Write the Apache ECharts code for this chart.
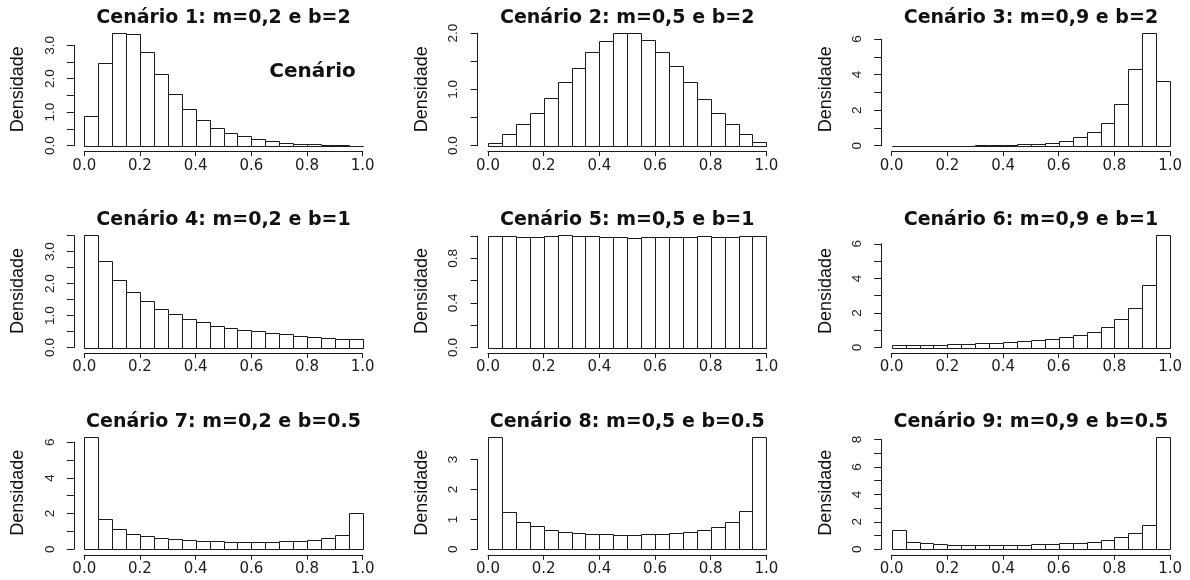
<!DOCTYPE html>
<html>
<head>
<meta charset="utf-8">
<script src="https://cdn.jsdelivr.net/npm/echarts/dist/echarts.min.js"></script>
<style>
  html, body { margin: 0; padding: 0; background: #ffffff; }
  #chart { width: 1190px; height: 580px; }
</style>
</head>
<body>
<div id="chart"></div>
<script>
// Histogram bins: 20 classes of width 0.05 on [0, 1]
const binEdges = [0, 0.05, 0.1, 0.15, 0.2, 0.25, 0.3, 0.35, 0.4, 0.45, 0.5,
                  0.55, 0.6, 0.65, 0.7, 0.75, 0.8, 0.85, 0.9, 0.95, 1.0];

const panelTitles = [
  'Cenário 1: m=0,2 e b=2', 'Cenário 2: m=0,5 e b=2', 'Cenário 3: m=0,9 e b=2',
  'Cenário 4: m=0,2 e b=1', 'Cenário 5: m=0,5 e b=1', 'Cenário 6: m=0,9 e b=1',
  'Cenário 7: m=0,2 e b=0.5', 'Cenário 8: m=0,5 e b=0.5', 'Cenário 9: m=0,9 e b=0.5'
];

// Density of each bin, one array per scenario
const dens1 = [0.88, 2.46, 3.36, 3.34, 2.81, 2.14, 1.53, 1.10, 0.77, 0.53, 0.38, 0.28, 0.20, 0.14, 0.09, 0.06, 0.06, 0.03, 0.02, 0.005];
const dens2 = [0.05, 0.20, 0.38, 0.59, 0.84, 1.13, 1.39, 1.67, 1.87, 2.00, 2.00, 1.88, 1.67, 1.41, 1.13, 0.83, 0.59, 0.38, 0.20, 0.06];
const dens3 = [0.001, 0.001, 0.002, 0.003, 0.005, 0.01, 0.03, 0.03, 0.04, 0.08, 0.10, 0.18, 0.25, 0.47, 0.77, 1.30, 2.37, 4.30, 6.33, 3.65];
const dens4 = [3.52, 2.70, 2.12, 1.73, 1.45, 1.22, 1.04, 0.88, 0.79, 0.68, 0.61, 0.54, 0.51, 0.46, 0.42, 0.36, 0.33, 0.30, 0.27, 0.27];
const dens5 = [1.000, 1.000, 0.994, 0.994, 1.000, 1.009, 1.000, 1.000, 0.988, 0.994, 0.982, 0.988, 0.994, 0.988, 0.994, 1.003, 0.994, 0.994, 1.000, 1.000];
const dens6 = [0.15, 0.15, 0.15, 0.15, 0.21, 0.21, 0.25, 0.25, 0.33, 0.38, 0.44, 0.50, 0.59, 0.71, 0.90, 1.19, 1.63, 2.30, 3.60, 6.51];
const dens7 = [6.30, 1.71, 1.13, 0.88, 0.73, 0.62, 0.56, 0.51, 0.45, 0.45, 0.39, 0.39, 0.39, 0.39, 0.45, 0.45, 0.51, 0.62, 0.79, 2.04];
const dens8 = [3.76, 1.25, 0.92, 0.77, 0.64, 0.57, 0.55, 0.52, 0.52, 0.48, 0.48, 0.52, 0.52, 0.55, 0.57, 0.64, 0.74, 0.92, 1.29, 3.76];
const dens9 = [1.39, 0.51, 0.44, 0.37, 0.32, 0.32, 0.32, 0.32, 0.32, 0.32, 0.39, 0.39, 0.44, 0.44, 0.51, 0.66, 0.88, 1.17, 1.80, 8.20];

// Y tick spacing per panel, and how many ticks between printed labels
const yTickStep   = [0.5, 0.5, 1, 0.5, 0.2, 1, 1, 1, 1];
const yLabelEvery = [2, 2, 2, 2, 2, 2, 2, 1, 2];

// X axis ticks
const xTickStep = 0.2;

const yAxisTitle = 'Densidade';

// Free text written inside the first panel (data coordinates)
const noteText = 'Cenário';
const notePoint = [0.82, 2.2];

const panels = [dens1, dens2, dens3, dens4, dens5, dens6, dens7, dens8, dens9];

// ---- layout of the 3 x 3 panel grid ----
const COL_X0 = 84.3, COL_STEP = 403.7, PLOT_W = 278.4;
const ROW_Y0 = 145.7, ROW_STEP = 201.8, BAR_SPAN = 112.5;

const INK = '#1c1c1c';
const grids = [], xAxes = [], yAxes = [], series = [], titles = [], graphics = [];

function histRect(params, api) {
  const p0 = api.coord([api.value(0), api.value(2)]);
  const p1 = api.coord([api.value(1), 0]);
  const x0 = Math.round(p0[0]) + 0.5, x1 = Math.round(p1[0]) + 0.5;
  const yt = Math.round(p0[1]) + 0.5, yb = Math.round(p1[1]) + 0.5;
  return {
    type: 'rect',
    shape: { x: x0, y: yt, width: x1 - x0, height: yb - yt },
    style: { fill: '#ffffff', stroke: INK, lineWidth: 1 }
  };
}

function noteLabel(params, api) {
  const p = api.coord([api.value(0), api.value(1)]);
  return {
    type: 'text', x: p[0], y: p[1],
    style: { text: noteText, fontFamily: 'DejaVu Sans', fontWeight: 'bold', fontSize: 20,
             fill: '#111111', align: 'center', verticalAlign: 'middle' }
  };
}

panels.forEach((dens, i) => {
  const r = Math.floor(i / 3), c = i % 3;
  const left = COL_X0 + COL_STEP * c;
  const y0 = ROW_Y0 + ROW_STEP * r;
  const maxD = Math.max(...dens);
  const step = yTickStep[i];
  const every = yLabelEvery[i];
  const lastTick = Math.round(Math.floor(maxD * 1.04 / step + 1e-6) * step * 1000) / 1000;
  const unit = BAR_SPAN / maxD;
  const h = lastTick * unit;

  grids.push({ left: left, top: y0 - h, width: PLOT_W, height: h,
               containLabel: false, outerBoundsMode: 'none' });

  xAxes.push({
    gridIndex: i, type: 'value', min: 0, max: 1, interval: xTickStep,
    offset: 5.5,
    axisLine: { show: true, onZero: false, lineStyle: { color: INK, width: 1 } },
    axisTick: { show: true, inside: false, length: 5, lineStyle: { color: INK, width: 1 } },
    splitLine: { show: false },
    axisLabel: {
      show: true, margin: 7, showMinLabel: true, showMaxLabel: true,
      fontFamily: 'DejaVu Sans', fontSize: 15, color: INK,
      formatter: v => v.toFixed(1)
    }
  });

  yAxes.push({
    gridIndex: i, type: 'value', min: 0, max: lastTick, interval: step,
    offset: 10.5,
    axisLine: { show: true, onZero: false, lineStyle: { color: INK, width: 1 } },
    axisTick: { show: true, inside: false, length: 7, lineStyle: { color: INK, width: 1 } },
    splitLine: { show: false },
    axisLabel: {
      show: true, rotate: 90, margin: 17, showMinLabel: true, showMaxLabel: true,
      fontFamily: 'Liberation Sans', fontSize: 13.5, color: INK,
      formatter: v => {
        const k = Math.round(v / step);
        return k % every === 0 ? v.toFixed(step < 1 ? 1 : 0) : '';
      }
    }
  });

  series.push({
    type: 'custom', xAxisIndex: i, yAxisIndex: i, clip: false, silent: true,
    renderItem: histRect,
    encode: { x: [0, 1], y: 2 },
    data: dens.map((d, k) => [binEdges[k], binEdges[k + 1], d])
  });

  titles.push({
    text: panelTitles[i], left: left + PLOT_W / 2, top: y0 - 137, padding: 0,
    textAlign: 'center',
    textStyle: { fontFamily: 'DejaVu Sans', fontWeight: 'bold', fontSize: 19, color: '#111111' }
  });

  // axis title centred on the whole plotting region of the panel
  graphics.push({
    type: 'text', x: left - 10.5 - 55.5, y: y0 - 56.5, rotation: Math.PI / 2, silent: true,
    style: { text: yAxisTitle, fontFamily: 'Liberation Sans', fontSize: 18, fill: '#111111',
             textAlign: 'center', textVerticalAlign: 'middle' }
  });
});

// free annotation in the first panel
series.push({
  type: 'custom', xAxisIndex: 0, yAxisIndex: 0, clip: false, silent: true,
  renderItem: noteLabel,
  encode: { x: 0, y: 1 },
  data: [notePoint]
});

const chart = echarts.init(document.getElementById('chart'), null, { renderer: 'canvas' });
chart.setOption({
  animation: false,
  backgroundColor: '#ffffff',
  title: titles,
  grid: grids,
  xAxis: xAxes,
  yAxis: yAxes,
  series: series,
  graphic: graphics
});
</script>
</body>
</html>
